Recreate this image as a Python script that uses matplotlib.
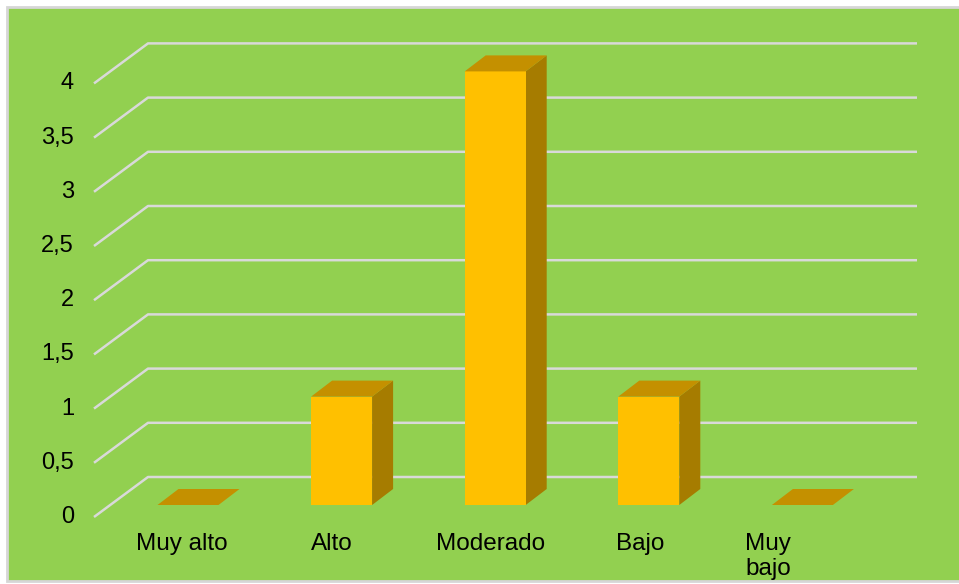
import matplotlib
matplotlib.use("agg")
import matplotlib.pyplot as plt
from matplotlib.patches import Rectangle, Polygon

categories = ["Muy alto", "Alto", "Moderado", "Bajo", "Muy\nbajo"]
values = [0, 1, 4, 1, 0]
yticks = [0, 0.5, 1, 1.5, 2, 2.5, 3, 3.5, 4]
ytick_labels = ["0", "0,5", "1", "1,5", "2", "2,5", "3", "3,5", "4"]

plt.rcParams['font.family'] = ['Liberation Sans', 'DejaVu Sans']

# pixel scale of the picture: one category = 153.6 px, one unit = 108.4 px
xs, ys = 153.6, 108.4
x0, y0 = 188, 505

green = '#92d050'
grid_c = '#d9d9d9'
front_c = '#ffc000'
top_c = '#c49000'
side_c = '#a67c00'

fig = plt.figure(figsize=(9.59, 5.84), dpi=100)
fig.patch.set_facecolor('white')
ax = fig.add_axes([0, 0, 1, 1])
ax.set_xlim(-x0 / xs, (959 - x0) / xs)
ax.set_ylim((y0 - 584) / ys, y0 / ys)
ax.axis('off')

# green plot area with grey border
bg = Rectangle((7 / 959, 3 / 584), 960 / 959, 574 / 584, transform=ax.transAxes,
               facecolor=green, edgecolor='#d6d6d6', linewidth=2, zorder=0)
ax.add_patch(bg)

# floor depth (front edge -> back wall) and bar placement inside it
depth_dx, depth_dy = 54 / xs, 40 / ys
front_dy = -12 / ys
bar_dx, bar_dy = 21 / xs, 16 / ys
w = 61 / xs
x_front = (94 - x0) / xs
x_right = (917 - x0) / xs

for v, lab in zip(yticks, ytick_labels):
    yf = v + front_dy
    ax.plot([x_front, x_front + depth_dx, x_right], [yf, yf + depth_dy, yf + depth_dy],
            color=grid_c, lw=1.8, solid_capstyle='butt', zorder=1)
    ax.text((74 - x0) / xs, yf, lab, ha='right', va='center', fontsize=17, color='black')

for i, v in enumerate(values):
    l, r = i - w / 2, i + w / 2
    if v > 0:
        ax.add_patch(Polygon([(r, 0), (r + bar_dx, bar_dy), (r + bar_dx, v + bar_dy), (r, v)],
                             closed=True, facecolor=side_c, edgecolor='none', zorder=3))
        ax.add_patch(Rectangle((l, 0), w, v, facecolor=front_c, edgecolor='none', zorder=3))
    ax.add_patch(Polygon([(l, v), (r, v), (r + bar_dx, v + bar_dy), (l + bar_dx, v + bar_dy)],
                         closed=True, facecolor=top_c, edgecolor='none', zorder=3))

label_shift = [-6, -10, -5, -9, -34]
for i, (cat, sh) in enumerate(zip(categories, label_shift)):
    ax.text(i + sh / xs, (y0 - 533) / ys, cat, ha='center', va='top', fontsize=17.5,
            color='black', linespacing=1.15, multialignment='left')

plt.savefig("out.png", dpi=100, facecolor=fig.get_facecolor())
